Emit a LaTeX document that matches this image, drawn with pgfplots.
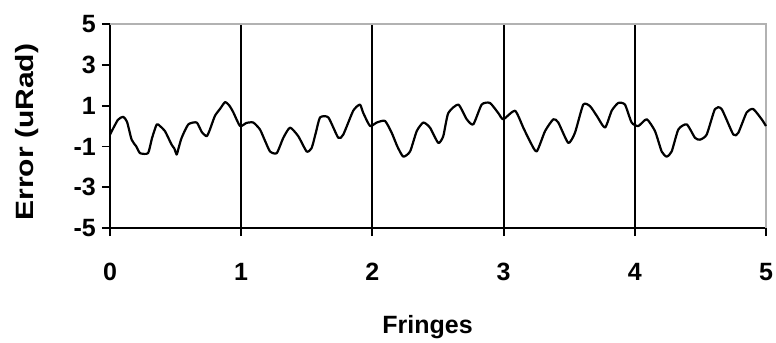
\documentclass[border=0pt]{standalone}
\usepackage{pgfplots}
\pgfplotsset{compat=1.18}
\usepackage{fontspec}
\setmainfont{Liberation Sans}
\begin{document}
\begin{tikzpicture}
\useasboundingbox (-110bp,-115bp) rectangle (666bp,228bp);
\begin{axis}[
  scale only axis,
  width=656bp, height=204bp,
  xmin=0, xmax=5, ymin=-5, ymax=5,
  xtick={0,1,2,3,4,5}, ytick={-5,-3,-1,1,3,5},
  axis x line=bottom, axis y line=left,
  axis line style={-, black, line width=1.8bp},
  tick style={black, line width=1.8bp},
  tick align=outside, major tick length=8bp,
  font=\fontsize{25bp}{28bp}\selectfont\bfseries,
  /pgf/number format/assume math mode=true,
  xticklabel style={anchor=base, inner sep=0pt, yshift=-44bp},
  yticklabel style={anchor=east, inner sep=0pt, xshift=-6bp},
  extra x ticks={1,2,3,4}, extra x tick labels={},
  extra x tick style={grid=major, major tick length=0pt},
  major grid style={black, line width=1.8bp},
  xlabel={Fringes},
  xlabel style={at={(axis description cs:0.484,-0.515)}, anchor=base},
  ylabel={\scalebox{1.2}[1]{Error (uRad)}},
  ylabel style={at={(axis description cs:-0.1265,0.47)}, anchor=center, rotate=0},
  clip=false,
]
\draw[gray!60, line width=1.5bp] (rel axis cs:0,1) -- (rel axis cs:1,1) -- (rel axis cs:1,0);
\addplot[black, line width=2.2bp, line join=round, smooth, tension=0.35] coordinates {
(0.000,-0.42) (0.06,0.30) (0.101,0.45) (0.13,0.20) (0.165,-0.67) (0.20,-1.00)
(0.229,-1.33) (0.290,-1.33) (0.32,-0.60) (0.356,0.08) (0.38,0.00) (0.419,-0.25)
(0.470,-0.92) (0.49,-1.10) (0.508,-1.40) (0.52,-1.15) (0.546,-0.58) (0.597,0.08)
(0.661,0.17) (0.70,-0.30) (0.737,-0.50) (0.76,-0.20) (0.800,0.50) (0.84,0.85)
(0.877,1.17) (0.91,1.00) (0.940,0.67) (0.991,0.00) (1.04,0.15) (1.092,0.17)
(1.143,-0.17) (1.18,-0.70) (1.220,-1.25) (1.271,-1.33) (1.321,-0.58) (1.372,-0.08)
(1.435,-0.50) (1.499,-1.25) (1.537,-1.08) (1.57,-0.30) (1.601,0.42) (1.664,0.42)
(1.740,-0.58) (1.778,-0.42) (1.854,0.75) (1.905,1.05) (1.931,0.63) (1.982,0.00)
(2.033,0.17) (2.096,0.25) (2.147,-0.33) (2.19,-1.00) (2.235,-1.50) (2.287,-1.25)
(2.338,-0.25) (2.388,0.17) (2.439,-0.08) (2.502,-0.83) (2.540,-0.50) (2.578,0.63)
(2.655,1.05) (2.719,0.33) (2.769,0.08) (2.833,1.05) (2.896,1.13) (2.960,0.63)
(2.998,0.33) (3.087,0.75) (3.150,-0.08) (3.201,-0.75) (3.252,-1.25) (3.316,-0.25)
(3.379,0.33) (3.417,0.17) (3.493,-0.83) (3.544,-0.33) (3.607,1.05) (3.659,0.97)
(3.710,0.50) (3.773,-0.08) (3.824,0.75) (3.874,1.13) (3.925,1.05) (3.976,0.17)
(4.027,0.00) (4.091,0.33) (4.154,-0.25) (4.205,-1.25) (4.243,-1.50) (4.281,-1.25)
(4.332,-0.17) (4.396,0.08) (4.459,-0.58) (4.497,-0.67) (4.548,-0.42) (4.611,0.83)
(4.662,0.83) (4.751,-0.42) (4.789,-0.33) (4.853,0.67) (4.903,0.83) (4.967,0.33)
(5.000,0.00)
};
\end{axis}
\end{tikzpicture}
\end{document}
